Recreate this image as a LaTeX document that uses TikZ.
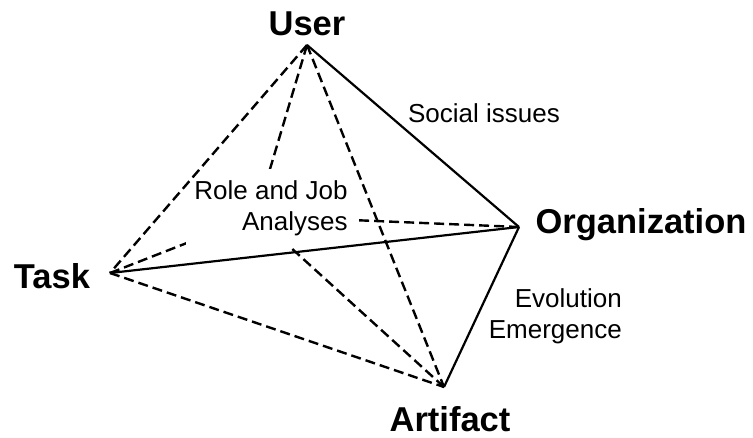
\documentclass[tikz,border=0pt]{standalone}
\usepackage{fontspec}
\setmainfont{Liberation Sans}
\pgfdeclarelayer{edgelayer}
\pgfdeclarelayer{nodelayer}
\pgfsetlayers{edgelayer,nodelayer,main}
\tikzstyle{vertex}=[inner sep=0pt,minimum size=0pt]
\tikzstyle{bigname}=[font={\fontsize{34.5}{40}\selectfont\bfseries},inner sep=0pt,anchor=base]
\tikzstyle{smallname}=[font={\fontsize{26}{31}\selectfont},inner sep=0pt,align=right]
\tikzstyle{solidedge}=[-,draw=black,line width=2.2pt]
\tikzstyle{hiddenedge}=[-,draw=black,line width=2.4pt,dash pattern=on 10pt off 5pt]

\begin{document}
\begin{tikzpicture}[x=1pt,y=-1pt]
	\useasboundingbox (0, 0) rectangle (753, 437);
	\begin{pgfonlayer}{nodelayer}
		\node [style=vertex] (0) at (307, 45) {};
		\node [style=vertex] (1) at (519, 227) {};
		\node [style=vertex] (2) at (110, 273) {};
		\node [style=vertex] (3) at (444, 387) {};
		\node [style=vertex] (4) at (256, 216) {};
		\node [style=bigname] (5) at (307, 35) {User};
		\node [style=bigname] (6) at (641, 233) {Organization};
		\node [style=bigname] (7) at (52, 288) {Task};
		\node [style=bigname] (8) at (450, 431) {Artifact};
		\node [style=smallname, anchor=base] (9) at (484, 122) {Social issues};
		\node [style=smallname, fill=white, minimum width=170, minimum height=78] (10) at (271, 208) {Role and Job\\Analyses};
		\node [style=smallname, anchor=north east] (11) at (622, 288) {Evolution\\Emergence};
	\end{pgfonlayer}
	\begin{pgfonlayer}{edgelayer}
		\draw [style=hiddenedge] (0.center) to (3.center);
		\draw [style=hiddenedge] (2.center) to (3.center);
		\draw [style=hiddenedge] (0.center) to (4.center);
		\draw [style=hiddenedge] (1.center) to (4.center);
		\draw [style=hiddenedge] (2.center) to (4.center);
		\draw [style=hiddenedge] (3.center) to (4.center);
	\end{pgfonlayer}
	% these stay above the label box
	\draw [style=hiddenedge] (0.center) to (2.center);
	\draw [style=solidedge] (0.center) to (1.center);
	\draw [style=solidedge] (2.center) to (1.center);
	\draw [style=solidedge] (1.center) to (3.center);
\end{tikzpicture}
\end{document}
